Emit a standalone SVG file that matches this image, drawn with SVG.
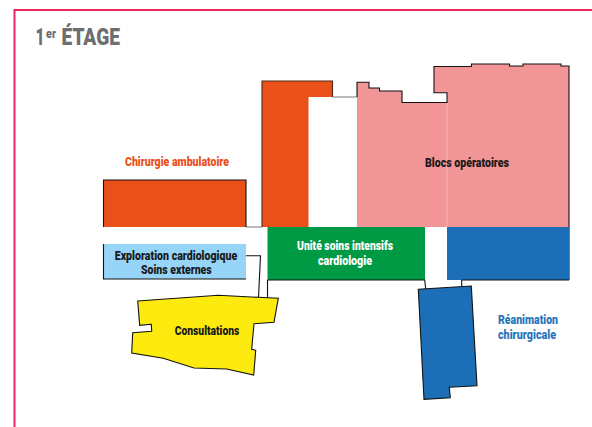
<svg xmlns="http://www.w3.org/2000/svg" width="592" height="427" viewBox="0 0 592 427">
<style>
text{font-family:"Roboto","Liberation Sans",Arial,sans-serif;font-weight:900;font-size:12px}
.k{fill:#1a1a1a}.o{fill:#eb5019}.b{fill:#2a75bb}.w{fill:#fff}
.ol{fill:none;stroke:#111;stroke-width:1.1}
.g{fill:none;stroke:#777;stroke-width:1}
</style>
<rect width="592" height="427" fill="#fff"/>
<path d="M14.500 427V10H592" fill="none" stroke="#e9285f" stroke-width="2"/>
<text id="title" y="45" fill="#6d6e70" style="font-size:24px"><tspan x="35.500" textLength="9" lengthAdjust="spacingAndGlyphs">1</tspan><tspan x="46" dy="-7.500" style="font-size:12px" textLength="10" lengthAdjust="spacingAndGlyphs">er</tspan><tspan x="61.500" dy="7.500" textLength="58.500" lengthAdjust="spacingAndGlyphs">ÉTAGE</tspan></text>
<g id="connectors">
<path class="g" d="M332.500 97H357M246 227H262"/>
<path class="ol" d="M246 255.700H260.500L258.500 297.500M267.500 280V298M424.700 280L425.700 289M461.700 280V286.500"/>
</g>
<g id="chirurgie-ambulatoire">
<rect x="103.500" y="180" width="142.500" height="47" fill="#eb5019"/>
<path class="ol" d="M103.500 227V180H246V227"/>
<text class="o" x="125" y="165.500" textLength="104" lengthAdjust="spacingAndGlyphs">Chirurgie ambulatoire</text>
</g>
<g id="aile-orange">
<path d="M262 227V81H332.500V97H308.500V227Z" fill="#eb5019"/>
<path d="M262 227V81H332.500V97" fill="none" stroke="#4a2a1e" stroke-width="1.100"/>
</g>
<g id="blocs-operatoires">
<path d="M357 227V82.300H369V88H379.500V91H402V102.500H447V92.700H434V66.500H471.500V64H509.500V66H523V64H561V66H569V227Z" fill="#f29597"/>
<path class="ol" d="M357 97V82.300H369V88H379.500V91H402V102.500H447V92.700H434V66.500H471.500V64H509.500V66H523V64H561V66H569V280"/>
<path d="M447 103V227" stroke="#f7b5b5" stroke-width="1" fill="none"/>
<text class="k" x="425" y="167" textLength="84" lengthAdjust="spacingAndGlyphs">Blocs opératoires</text>
</g>
<g id="exploration-cardiologique">
<rect x="103.500" y="244" width="142.500" height="35" fill="#96d5f8"/>
<path class="ol" d="M103.500 244V279H246"/>
<text class="k" x="114.700" y="259.700" textLength="122.600" lengthAdjust="spacingAndGlyphs">Exploration cardiologique</text>
<text class="k" x="141" y="273.700" textLength="70.700" lengthAdjust="spacingAndGlyphs">Soins externes</text>
</g>
<g id="soins-intensifs">
<rect x="267.500" y="227" width="157.500" height="53" fill="#019a44"/>
<path class="ol" d="M267.500 280H425"/>
<text class="w" x="297" y="250" textLength="96" lengthAdjust="spacingAndGlyphs">Unité soins intensifs</text>
<text class="w" x="318" y="265" textLength="54" lengthAdjust="spacingAndGlyphs">cardiologie</text>
</g>
<g id="consultations">
<path class="ol" style="fill:#fdea0e" d="M137.700 301L218.300 295.300L258.300 297.300L278.300 298.300L274 322.300L254 323.700L251.700 349.300L255.700 350.300L253.700 375L226.700 369L194 368L163.300 358.300L131.700 353L132.700 332.700L151.700 331.300L151.300 324.300L139.700 325.300Z"/>
<text class="k" x="174.700" y="334.700" textLength="64.600" lengthAdjust="spacingAndGlyphs">Consultations</text>
</g>
<g id="reanimation">
<rect x="447" y="227" width="122" height="53" fill="#1c6fb7"/>
<path class="ol" d="M461.700 280H569"/>
<path class="ol" style="fill:#1c6fb7" d="M418.300 289.300L471.300 286L477 385.700L449.300 387.300L450.300 397.700L424 399.300Z"/>
<text class="b" x="498" y="323.700" textLength="60" lengthAdjust="spacingAndGlyphs">Réanimation</text>
<text class="b" x="498" y="339" textLength="58" lengthAdjust="spacingAndGlyphs">chirurgicale</text>
</g>
</svg>
